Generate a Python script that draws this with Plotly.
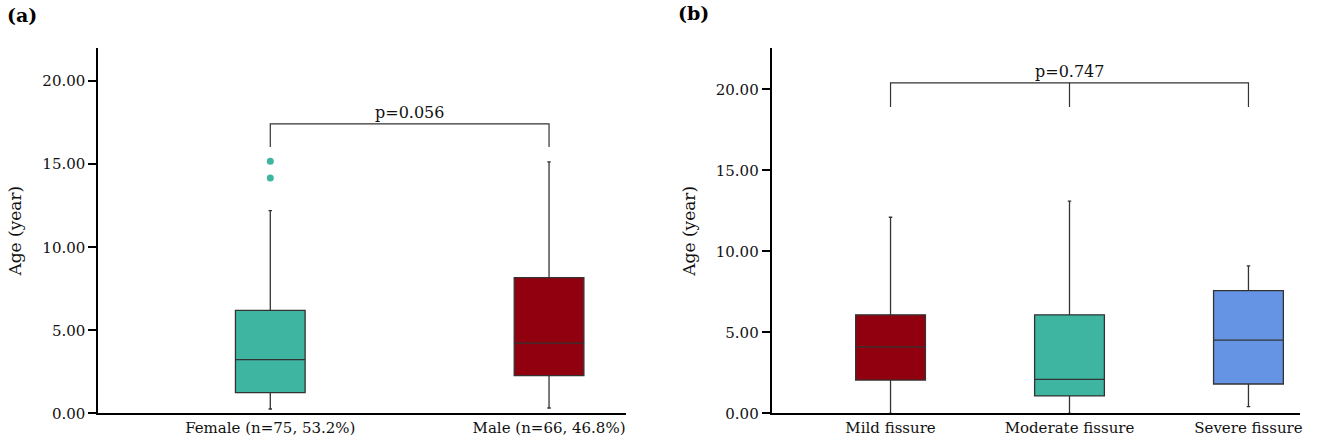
import plotly.graph_objects as go

# ---------- data (a) ----------
sex_groups = ["Female (n=75, 53.2%)", "Male (n=66, 46.8%)"]
sex_lower = [0.26, 0.32]
sex_q1 = [1.25, 2.27]
sex_median = [3.23, 4.23]
sex_q3 = [6.2, 8.17]
sex_upper = [12.2, 15.14]
female_outliers = [14.17, 15.18]
sex_colors = ["#3EB5A0", "#91000F"]
p_sex = "p=0.056"

# ---------- data (b) ----------
fissure_groups = ["Mild fissure", "Moderate fissure", "Severe fissure"]
fis_lower = [0.0, 0.0, 0.41]
fis_q1 = [2.05, 1.07, 1.81]
fis_median = [4.1, 2.1, 4.52]
fis_q3 = [6.08, 6.08, 7.57]
fis_upper = [12.1, 13.1, 9.1]
fis_colors = ["#91000F", "#3EB5A0", "#6694E5"]
p_fis = "p=0.747"

yticks = [0, 5, 10, 15, 20]
ytick_text = ["0.00", "5.00", "10.00", "15.00", "20.00"]

FONT = "DejaVu Serif"
LINE = "#333333"

fig = go.Figure()

for i, g in enumerate(sex_groups):
    fig.add_trace(go.Box(
        x=[g], q1=[sex_q1[i]], median=[sex_median[i]], q3=[sex_q3[i]],
        lowerfence=[sex_lower[i]], upperfence=[sex_upper[i]],
        fillcolor=sex_colors[i], line=dict(color=LINE, width=1.3),
        width=0.25, whiskerwidth=0.05, boxpoints=False,
        xaxis="x", yaxis="y", showlegend=False, hoverinfo="y"))

fig.add_trace(go.Scatter(
    x=[sex_groups[0]] * len(female_outliers), y=female_outliers, mode="markers",
    marker=dict(color=sex_colors[0], size=7), xaxis="x", yaxis="y",
    showlegend=False))

for i, g in enumerate(fissure_groups):
    fig.add_trace(go.Box(
        x=[g], q1=[fis_q1[i]], median=[fis_median[i]], q3=[fis_q3[i]],
        lowerfence=[fis_lower[i]], upperfence=[fis_upper[i]],
        fillcolor=fis_colors[i], line=dict(color=LINE, width=1.3),
        width=0.39, whiskerwidth=0.05, boxpoints=False,
        xaxis="x2", yaxis="y2", showlegend=False, hoverinfo="y"))

# significance brackets
br_a_top, br_a_bot = 17.43, 16.04
br_b_top, br_b_bot = 20.4, 18.9
shapes = [
    dict(type="path", xref="x", yref="y",
         path=f"M 0,{br_a_bot} L 0,{br_a_top} L 1,{br_a_top} L 1,{br_a_bot}",
         line=dict(color=LINE, width=1.2)),
    dict(type="path", xref="x2", yref="y2",
         path=f"M 0,{br_b_bot} L 0,{br_b_top} L 2,{br_b_top} L 2,{br_b_bot}",
         line=dict(color=LINE, width=1.2)),
    dict(type="line", xref="x2", yref="y2", x0=1, x1=1, y0=br_b_bot, y1=br_b_top,
         line=dict(color=LINE, width=1.2)),
]

annotations = [
    dict(text=p_sex, xref="x", yref="y", x=0.5, y=br_a_top, yanchor="bottom",
         showarrow=False, font=dict(family=FONT, size=16, color="#111")),
    dict(text=p_fis, xref="x2", yref="y2", x=1, y=br_b_top, yanchor="bottom",
         showarrow=False, font=dict(family=FONT, size=16, color="#111")),
    dict(text="<b>(a)</b>", xref="paper", yref="paper", x=0.004, y=0.995,
         xanchor="left", yanchor="top", showarrow=False,
         font=dict(family=FONT, size=19, color="#000")),
    dict(text="<b>(b)</b>", xref="paper", yref="paper", x=0.512, y=1.0,
         xanchor="left", yanchor="top", showarrow=False,
         font=dict(family=FONT, size=19, color="#000")),
]

axis_common = dict(showline=True, linecolor="#000", linewidth=2, showgrid=False,
                   zeroline=False, automargin=False,
                   tickfont=dict(family=FONT, size=15, color="#111"))

fig.update_layout(
    width=1321, height=441,
    margin=dict(l=0, r=0, t=0, b=0),
    paper_bgcolor="white", plot_bgcolor="white",
    shapes=shapes, annotations=annotations,
    xaxis=dict(domain=[98.3 / 1321, 625.7 / 1321], anchor="y", type="category",
               range=[-0.617, 1.275], ticks="", **axis_common),
    yaxis=dict(domain=[(441 - 413.3) / 441, (441 - 48) / 441], anchor="x",
               range=[0, 22.0], tickvals=yticks, ticktext=ytick_text,
               ticks="outside", ticklen=8, tickwidth=2, tickcolor="#000",
               title=dict(text="Age (year)", font=dict(family=FONT, size=17, color="#111"),
                          standoff=16),
               **axis_common),
    xaxis2=dict(domain=[771.7 / 1321, 1300 / 1321], anchor="y2", type="category",
                range=[-0.664, 2.288], ticks="", **axis_common),
    yaxis2=dict(domain=[(441 - 413.3) / 441, (441 - 48.3) / 441], anchor="x2",
                range=[0, 22.53], tickvals=yticks, ticktext=ytick_text,
                ticks="outside", ticklen=8, tickwidth=2, tickcolor="#000",
                title=dict(text="Age (year)", font=dict(family=FONT, size=17, color="#111"),
                           standoff=16),
                **axis_common),
)

fig.write_html(
    "out.html",
    config={"displayModeBar": False},
    post_script="document.body.style.margin='0';document.body.style.overflow='hidden';",
)
